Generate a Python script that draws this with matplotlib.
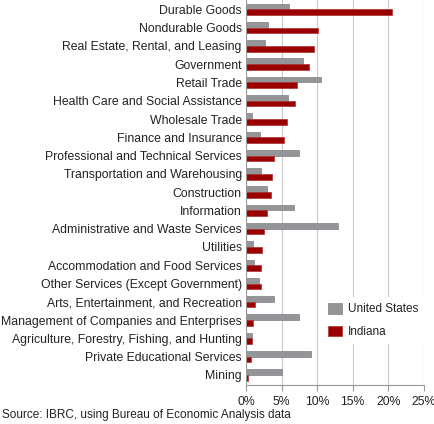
import matplotlib
matplotlib.use("Agg")
import matplotlib.pyplot as plt
import numpy as np

# Data (share of GDP, %)
categories = [
    "Durable Goods", "Nondurable Goods", "Real Estate, Rental, and Leasing",
    "Government", "Retail Trade", "Health Care and Social Assistance",
    "Wholesale Trade", "Finance and Insurance",
    "Professional and Technical Services", "Transportation and Warehousing",
    "Construction", "Information", "Administrative and Waste Services",
    "Utilities", "Accommodation and Food Services",
    "Other Services (Except Government)", "Arts, Entertainment, and Recreation",
    "Management of Companies and Enterprises",
    "Agriculture, Forestry, Fishing, and Hunting",
    "Private Educational Services", "Mining",
]
us_values = [6.1, 3.1, 2.6, 8.0, 10.6, 5.9, 0.8, 2.0, 7.5, 2.1, 2.9, 6.7,
             12.9, 1.0, 1.1, 1.8, 4.0, 7.5, 0.9, 9.1, 5.0]
indiana_values = [20.5, 10.1, 9.5, 8.85, 7.2, 6.9, 5.7, 5.4, 4.0, 3.65, 3.5,
                  2.9, 2.5, 2.2, 2.15, 2.15, 1.3, 1.0, 0.8, 0.65, 0.3]
x_ticks = [0, 5, 10, 15, 20, 25]
x_tick_labels = ["0%", "5%", "10%", "15%", "20%", "25%"]

GRAY = "#939598"
RED = "#990000"
TEXT = "#222222"

plt.rcParams['font.family'] = ['Liberation Sans', 'DejaVu Sans']

fig = plt.figure(figsize=(4.35, 4.24), dpi=100)
ax = fig.add_axes([246 / 435, 1 - 385 / 424, 178 / 435, 385 / 424])

y = np.arange(len(categories))
h = 0.31
ax.barh(y - h / 2, us_values, height=h, color=GRAY, edgecolor="#808083",
        linewidth=0.5, label="United States", zorder=3)
ax.barh(y + h / 2, indiana_values, height=h, color=RED, edgecolor="#b03030",
        linewidth=0.5, label="Indiana", zorder=3)

ax.set_xlim(0, 25)
ax.set_ylim(20.55, -0.51)
ax.set_xticks(x_ticks)
ax.set_xticklabels(x_tick_labels, fontsize=8.8, color=TEXT)
ax.set_yticks(y)
ax.set_yticklabels(categories, fontsize=8.8, color=TEXT)
ax.tick_params(axis='y', length=0, pad=3)
ax.tick_params(axis='x', length=4, color="#999999", pad=4)

ax.grid(axis='x', color="#c8c8c8", linewidth=0.8, zorder=0)
for side in ["top", "right", "left"]:
    ax.spines[side].set_visible(False)
ax.spines["bottom"].set_color("#999999")
ax.axvline(0, color="#999999", linewidth=0.8, zorder=4)

leg = ax.legend(loc="center left", bbox_to_anchor=(0.43, 0.1675), borderaxespad=0,
                frameon=True, fontsize=8.5, handlelength=1.15, handleheight=1.0,
                labelspacing=0.85, handletextpad=0.5, borderpad=0.5)
leg.get_frame().set_facecolor("white")
leg.get_frame().set_edgecolor("none")
leg.get_frame().set_alpha(1)
for t in leg.get_texts():
    t.set_color(TEXT)

fig.text(2 / 435, 1 - 415 / 424, "Source: IBRC, using Bureau of Economic Analysis data",
         fontsize=8.5, color=TEXT, va="center", ha="left")

fig.savefig("out.png", dpi=100)
